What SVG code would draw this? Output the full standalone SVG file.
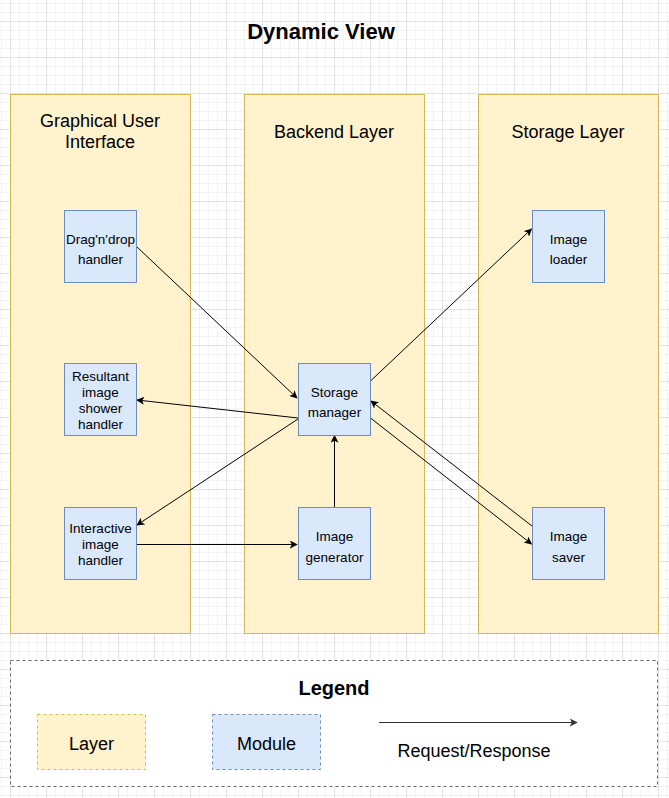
<svg xmlns="http://www.w3.org/2000/svg" width="669" height="798" viewBox="0 0 669 798">
<defs>
<pattern id="grid" patternUnits="userSpaceOnUse" x="10" y="21" width="36" height="36">
<path d="M9.5 0V36M18.5 0V36M27.5 0V36M0 9.5H36M0 18.5H36M0 27.5H36" stroke="#f3f3f3" stroke-width="1" fill="none"/>
<path d="M0.5 0V36M0 0.5H36" stroke="#e3e3e3" stroke-width="1" fill="none"/>
</pattern>
<marker id="arr" viewBox="0 0 10 10" refX="9" refY="5" markerWidth="8" markerHeight="8" markerUnits="userSpaceOnUse" orient="auto">
<path d="M0 0L10 5L0 10L2.5 5Z" fill="#000"/>
</marker>
<marker id="arrg" viewBox="0 0 10 10" refX="9" refY="5" markerWidth="8" markerHeight="8" markerUnits="userSpaceOnUse" orient="auto">
<path d="M0 0L10 5L0 10L2.5 5Z" fill="#333"/>
</marker>
</defs>
<style>
text{font-family:"Liberation Sans",Arial,Helvetica,sans-serif;fill:#000;text-anchor:middle}
.layer{fill:#fff2cc;stroke:#d6b656;stroke-width:1}
.mod{fill:#dae8fc;stroke:#6c8ebf;stroke-width:1}
.lt{font-size:18px}
.mt{font-size:13.5px}
.gt{font-size:18px}
.c{fill:none;stroke:#000;stroke-width:1;marker-end:url(#arr)}
</style>
<rect width="669" height="798" fill="#fff"/>
<rect width="669" height="798" fill="url(#grid)"/>
<text x="321" y="39" font-size="22" font-weight="bold">Dynamic View</text>

<g id="layer-gui">
<rect class="layer" x="10.5" y="94.5" width="180" height="539"/>
<text class="lt" x="100" y="126.5">Graphical User</text>
<text class="lt" x="100" y="147.5">Interface</text>
</g>
<g id="layer-backend">
<rect class="layer" x="244.5" y="94.5" width="180" height="539"/>
<text class="lt" x="334" y="137.5">Backend Layer</text>
</g>
<g id="layer-storage">
<rect class="layer" x="478.5" y="94.5" width="180" height="539"/>
<text class="lt" x="568" y="137.5">Storage Layer</text>
</g>

<g id="connectors">
<path class="c" d="M136.5 246.5L297 398"/>
<path class="c" d="M298 418L137 400"/>
<path class="c" d="M298 419L137 525"/>
<path class="c" d="M136.5 544.5L297 544.5"/>
<path class="c" d="M334.5 507L334.5 435.5"/>
<path class="c" d="M370.5 381L531.5 229"/>
<path class="c" d="M532 526L371 401"/>
<path class="c" d="M370.5 418L531.5 544"/>
</g>

<g id="dragdrop">
<rect class="mod" x="64.5" y="210.5" width="72" height="72"/>
<text class="mt" x="100.5" y="243.5">Drag'n'drop</text>
<text class="mt" x="100.5" y="263.5">handler</text>
</g>
<g id="resultant">
<rect class="mod" x="64.5" y="363.5" width="72" height="72"/>
<text class="mt" x="100.5" y="380.5">Resultant</text>
<text class="mt" x="100.5" y="396.5">image</text>
<text class="mt" x="100.5" y="412.5">shower</text>
<text class="mt" x="100.5" y="428.5">handler</text>
</g>
<g id="interactive">
<rect class="mod" x="64.5" y="507.5" width="72" height="72"/>
<text class="mt" x="100.5" y="532.5">Interactive</text>
<text class="mt" x="100.5" y="548.5">image</text>
<text class="mt" x="100.5" y="564.5">handler</text>
</g>
<g id="storage-manager">
<rect class="mod" x="298.5" y="363.5" width="72" height="72"/>
<text class="mt" x="334.5" y="396.5">Storage</text>
<text class="mt" x="334.5" y="416.5">manager</text>
</g>
<g id="image-generator">
<rect class="mod" x="298.5" y="507.5" width="72" height="72"/>
<text class="mt" x="334.5" y="540.5">Image</text>
<text class="mt" x="334.5" y="561.5">generator</text>
</g>
<g id="image-loader">
<rect class="mod" x="532.5" y="210.5" width="72" height="72"/>
<text class="mt" x="568.5" y="243.5">Image</text>
<text class="mt" x="568.5" y="263.5">loader</text>
</g>
<g id="image-saver">
<rect class="mod" x="532.5" y="507.5" width="72" height="72"/>
<text class="mt" x="568.5" y="540.5">Image</text>
<text class="mt" x="568.5" y="561.5">saver</text>
</g>

<g id="legend">
<rect x="10.5" y="660.5" width="647" height="126" fill="#fff" stroke="#666" stroke-dasharray="3 3"/>
<text x="334" y="695" font-size="20" font-weight="bold">Legend</text>
<rect x="37.5" y="714.5" width="108" height="55" fill="#fff2cc" stroke="#d6b656" stroke-dasharray="3 3"/>
<text class="gt" x="91.5" y="749.5">Layer</text>
<rect x="212.5" y="714.5" width="108" height="55" fill="#dae8fc" stroke="#6c8ebf" stroke-dasharray="3 3"/>
<text class="gt" x="266.5" y="749.5">Module</text>
<path d="M379 722.5L577 722.5" fill="none" stroke="#333" stroke-width="1" marker-end="url(#arrg)"/>
<text class="gt" x="474" y="756.5">Request/Response</text>
</g>
</svg>
